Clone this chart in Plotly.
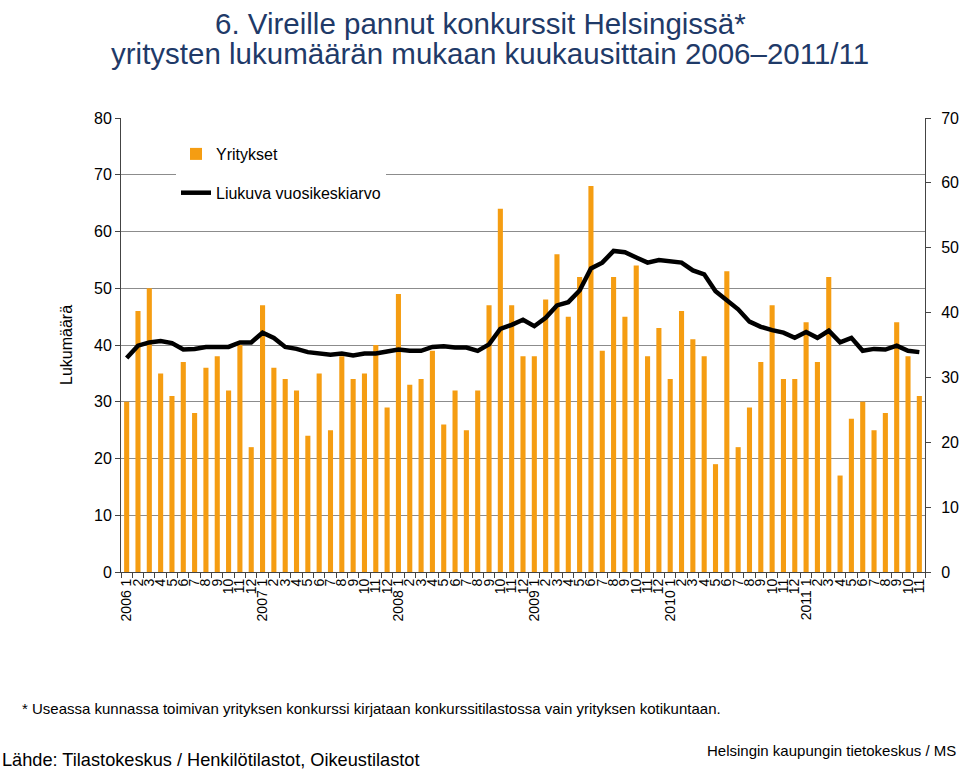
import plotly.graph_objects as go

years = [2006, 2007, 2008, 2009, 2010, 2011]
months_per_year = [12, 12, 12, 12, 12, 11]

yritykset = [
    30, 46, 50, 35, 31, 37, 28, 36, 38, 32, 40, 22,   # 2006
    47, 36, 34, 32, 24, 35, 25, 38, 34, 35, 40, 29,   # 2007
    49, 33, 34, 39, 26, 32, 25, 32, 47, 64, 47, 38,   # 2008
    38, 48, 56, 45, 52, 68, 39, 52, 45, 54, 38, 43,   # 2009
    34, 46, 41, 38, 19, 53, 22, 29, 37, 47, 34, 34,   # 2010
    44, 37, 52, 17, 27, 30, 25, 28, 44, 38, 31,       # 2011
]

liukuva = [
    33.0, 34.9, 35.4, 35.6, 35.3, 34.3, 34.4, 34.7, 34.7, 34.7, 35.4, 35.4,
    36.9, 36.1, 34.7, 34.4, 33.9, 33.7, 33.5, 33.7, 33.4, 33.7, 33.7, 34.0,
    34.3, 34.1, 34.1, 34.7, 34.8, 34.6, 34.6, 34.1, 35.1, 37.5, 38.1, 38.9,
    37.9, 39.2, 41.1, 41.6, 43.4, 46.8, 47.7, 49.5, 49.3, 48.5, 47.7, 48.1,
    47.9, 47.7, 46.5, 45.9, 43.3, 42.0, 40.5, 38.6, 37.8, 37.3, 36.9, 36.1,
    37.0, 36.1, 37.2, 35.4, 36.1, 34.1, 34.4, 34.3, 34.9, 34.1, 33.9,
]

tick_labels = []
for y, n in zip(years, months_per_year):
    for m in range(1, n + 1):
        tick_labels.append(f"{y} {m}" if m == 1 else str(m))

x = list(range(len(yritykset)))

FONT = "Liberation Sans, Arial, sans-serif"

W, H = 960, 771
# plot area on screen: x 121..925, y 118..572
pl, pt = 121, 118
pr = W - 925
pb = H - 572
pw, ph = W - pl - pr, H - pt - pb

def px(xs):
    return (xs - pl) / pw

def py(ys):
    return (H - pb - ys) / ph

fig = go.Figure()
fig.add_trace(go.Bar(
    x=x, y=yritykset, name="Yritykset",
    marker=dict(color="#F59D12", line=dict(width=0)),
    legendgroup="a",
))
fig.add_trace(go.Scatter(
    x=x, y=liukuva, name="Liukuva vuosikeskiarvo", yaxis="y2",
    mode="lines", line=dict(color="black", width=4.5),
    legendgroup="b",
))

fig.update_layout(
    width=W, height=H,
    margin=dict(l=pl, r=pr, t=pt, b=pb, autoexpand=False),
    paper_bgcolor="white", plot_bgcolor="white",
    bargap=0.55,
    showlegend=True,
    legend=dict(
        x=px(176), y=py(137), xanchor="left", yanchor="top",
        bgcolor="white", font=dict(family=FONT, size=16, color="black"),
        traceorder="grouped", tracegroupgap=15,
    ),
    xaxis=dict(
        range=[-0.5, len(x) - 0.5], automargin=False,
        tickmode="array", tickvals=x, ticktext=tick_labels,
        tickangle=-90, ticks="", showgrid=False,
        showline=True, linecolor="#444", linewidth=1,
        tickfont=dict(family=FONT, size=14, color="black"),
        minor=dict(tickmode="array", tickvals=[i - 0.5 for i in range(len(x) + 1)],
                   ticks="outside", ticklen=5, tickcolor="#444", showgrid=False),
    ),
    yaxis=dict(
        range=[0, 80], dtick=10, showgrid=True, gridcolor="#8c8c8c", gridwidth=1,
        showline=True, linecolor="#444", linewidth=1, automargin=False,
        ticks="outside", ticklen=5, tickcolor="#444",
        tickfont=dict(family=FONT, size=16, color="black"),
        zeroline=False,
    ),
    yaxis2=dict(
        range=[0, 70], dtick=10, overlaying="y", side="right", automargin=False,
        showgrid=False, showline=True, linecolor="#444", linewidth=1,
        ticks="outside", ticklen=5, tickcolor="#444", ticklabelstandoff=7,
        tickfont=dict(family=FONT, size=16, color="black"), zeroline=False,
    ),
)

anns = [
    dict(text="6. Vireille pannut konkurssit Helsingissä*", x=px(480), y=py(23),
         font=dict(family=FONT, size=29.5, color="#1F3A68")),
    dict(text="yritysten lukumäärän mukaan kuukausittain 2006–2011/11", x=px(490), y=py(53),
         font=dict(family=FONT, size=29.5, color="#1F3A68")),
    dict(text="Lukumäärä", x=px(66), y=py(345), textangle=-90,
         font=dict(family=FONT, size=16, color="black")),
    dict(text="* Useassa kunnassa toimivan yrityksen konkurssi kirjataan konkurssitilastossa vain yrityksen kotikuntaan.",
         x=px(20), y=py(708), xanchor="left", font=dict(family=FONT, size=15, color="black")),
    dict(text="Lähde: Tilastokeskus / Henkilötilastot, Oikeustilastot",
         x=px(0), y=py(760), xanchor="left", font=dict(family=FONT, size=18.2, color="black")),
    dict(text="Helsingin kaupungin tietokeskus / MS",
         x=px(958), y=py(750), xanchor="right", font=dict(family=FONT, size=15, color="black")),
]
for a in anns:
    a.update(xref="paper", yref="paper", showarrow=False, yanchor="middle")
    a.setdefault("xanchor", "center")
fig.update_layout(annotations=anns)

fig.write_html(
    "out.html",
    config={"displayModeBar": False},
    post_script="document.body.style.margin='0px';document.body.style.overflow='hidden';",
)
